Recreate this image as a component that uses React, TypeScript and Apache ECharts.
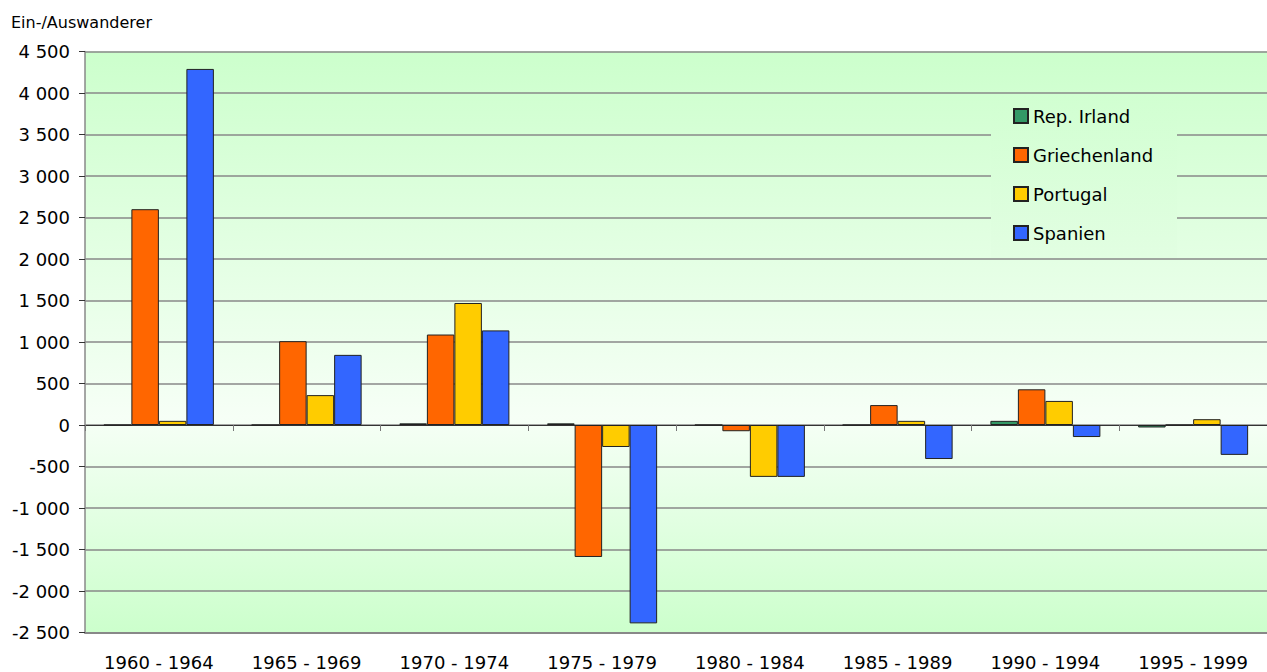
import React, { useEffect, useRef } from "react";
import * as echarts from "echarts";

const categories = [
  "1960 - 1964",
  "1965 - 1969",
  "1970 - 1974",
  "1975 - 1979",
  "1980 - 1984",
  "1985 - 1989",
  "1990 - 1994",
  "1995 - 1999",
];
const seriesNames = ["Rep. Irland", "Griechenland", "Portugal", "Spanien"];
const irland = [0, 0, 20, 20, 0, 0, 50, -30];
const griechenland = [2600, 1010, 1090, -1590, -75, 240, 430, 0];
const portugal = [50, 360, 1470, -265, -625, 50, 290, 70];
const spanien = [4290, 845, 1140, -2390, -625, -410, -145, -360];
const seriesColors = ["#339966", "#ff6600", "#ffcc00", "#3366ff"];
const yAxisTitle = "Ein-/Auswanderer";

const FONT = "DejaVu Sans";

function fmt(v: number): string {
  const a = Math.abs(v);
  const s = String(a).replace(/\B(?=(\d{3})+(?!\d))/g, " ");
  return (v < 0 ? "-" : "") + s;
}

export default function App() {
  const ref = useRef<HTMLDivElement>(null);
  useEffect(() => {
    document.body.style.margin = "0";
    if (!ref.current) return;
    const chart = echarts.init(ref.current, null, { renderer: "svg" });
    const allData = [irland, griechenland, portugal, spanien];
    chart.setOption({
      animation: false,
      textStyle: { fontFamily: FONT },
      grid: {
        left: 85,
        top: 51.5,
        width: 1192,
        height: 581,
        show: true,
        borderWidth: 0,
        backgroundColor: new echarts.graphic.LinearGradient(0, 0, 0, 1, [
          { offset: 0, color: "#ccffcc" },
          { offset: 0.63, color: "#f6fff6" },
          { offset: 1, color: "#ccffcc" },
        ]),
      },
      legend: {
        data: seriesNames,
        orient: "vertical",
        left: 991,
        top: 94,
        padding: [12, 0, 0, 22],
        itemGap: 19,
        itemWidth: 14,
        itemHeight: 14,
        icon: "rect",
        textStyle: { fontFamily: FONT, fontSize: 18, lineHeight: 20, color: "#000" },
      },
      graphic: [
        {
          type: "rect",
          z: 3,
          shape: { x: 991, y: 94.5, width: 186, height: 163.5 },
          style: {
            fill: new echarts.graphic.LinearGradient(0, 0, 0, 1, [
              { offset: 0, color: "#d1ffd1" },
              { offset: 1, color: "#e2fee2" },
            ]),
          },
        },
        {
          type: "text",
          left: 11,
          top: 14,
          style: { text: yAxisTitle, font: `16px "${FONT}"`, fill: "#000" },
        },
      ],
      xAxis: [
        {
          type: "category",
          data: categories,
          axisLine: { onZero: true, lineStyle: { color: "#333", width: 1 } },
          axisTick: { show: true, length: 6, lineStyle: { color: "#777" } },
          axisLabel: { show: false },
          splitLine: { show: false },
        },
        {
          type: "category",
          data: categories,
          position: "bottom",
          axisLine: { onZero: false, show: true, lineStyle: { color: "#888", width: 2 } },
          axisTick: { show: false },
          axisLabel: { show: true, margin: 21, fontSize: 18, color: "#000", fontFamily: FONT },
        },
      ],
      yAxis: {
        type: "value",
        min: -2500,
        max: 4500,
        interval: 500,
        axisLine: { show: true, lineStyle: { color: "#888", width: 1.5 } },
        axisTick: { show: true, length: 6, lineStyle: { color: "#333" } },
        axisLabel: {
          margin: 15,
          fontSize: 18,
          color: "#000",
          fontFamily: FONT,
          formatter: (v: number) => fmt(v),
        },
        splitLine: { show: true, lineStyle: { color: "#888", width: 1.5 } },
      },
      series: seriesNames.map((name, i) => ({
        name,
        type: "bar",
        data: allData[i],
        barWidth: 27.5,
        barGap: "0%",
        itemStyle: { color: seriesColors[i], borderColor: "#222", borderWidth: 1 },
      })),
    });
    return () => chart.dispose();
  }, []);
  return <div ref={ref} style={{ width: 1267, height: 672 }} />;
}
